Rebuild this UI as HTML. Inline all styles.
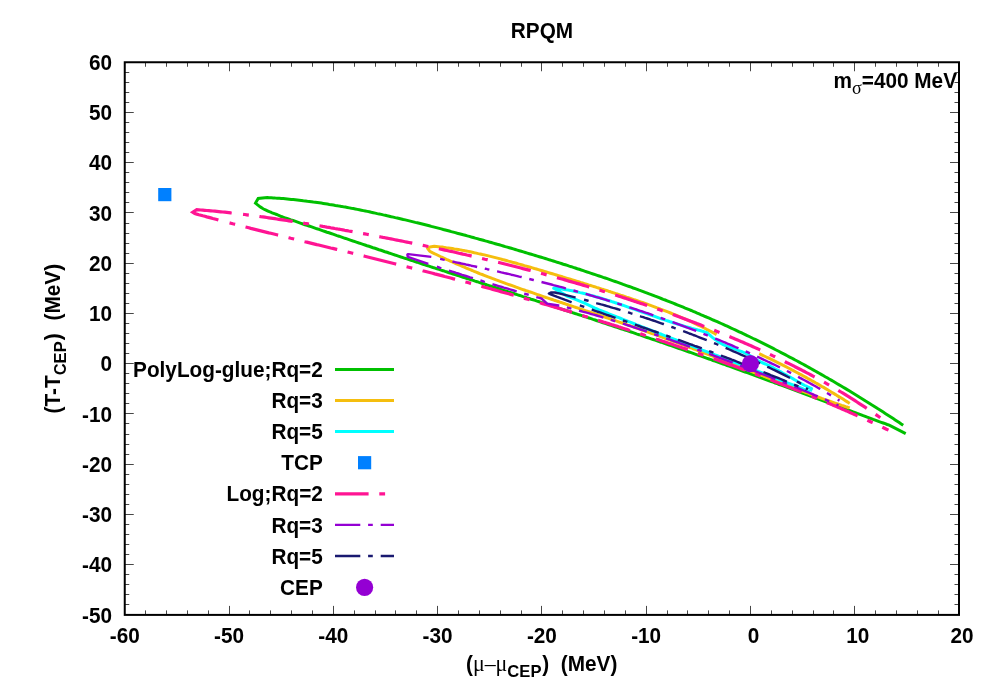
<!DOCTYPE html>
<html><head><meta charset="utf-8"><title>RPQM</title>
<style>
html,body{margin:0;padding:0;background:#fff;}
body{width:997px;height:698px;overflow:hidden;}
svg{display:block;will-change:transform;}
text{font-family:"Liberation Sans",sans-serif;font-weight:bold;fill:#000;}
</style></head><body>
<svg width="997" height="698" viewBox="0 0 997 698">
<rect width="997" height="698" fill="#fff"/>
<path d="M145.50 614.9 v-4.5 M145.50 62.25 v4.5 M166.50 614.9 v-4.5 M166.50 62.25 v4.5 M187.50 614.9 v-4.5 M187.50 62.25 v4.5 M208.50 614.9 v-4.5 M208.50 62.25 v4.5 M229.50 614.9 v-9 M229.50 62.25 v9 M249.50 614.9 v-4.5 M249.50 62.25 v4.5 M270.50 614.9 v-4.5 M270.50 62.25 v4.5 M291.50 614.9 v-4.5 M291.50 62.25 v4.5 M312.50 614.9 v-4.5 M312.50 62.25 v4.5 M333.50 614.9 v-9 M333.50 62.25 v9 M354.50 614.9 v-4.5 M354.50 62.25 v4.5 M375.50 614.9 v-4.5 M375.50 62.25 v4.5 M395.50 614.9 v-4.5 M395.50 62.25 v4.5 M416.50 614.9 v-4.5 M416.50 62.25 v4.5 M437.50 614.9 v-9 M437.50 62.25 v9 M458.50 614.9 v-4.5 M458.50 62.25 v4.5 M479.50 614.9 v-4.5 M479.50 62.25 v4.5 M500.50 614.9 v-4.5 M500.50 62.25 v4.5 M521.50 614.9 v-4.5 M521.50 62.25 v4.5 M541.50 614.9 v-9 M541.50 62.25 v9 M562.50 614.9 v-4.5 M562.50 62.25 v4.5 M583.50 614.9 v-4.5 M583.50 62.25 v4.5 M604.50 614.9 v-4.5 M604.50 62.25 v4.5 M625.50 614.9 v-4.5 M625.50 62.25 v4.5 M646.50 614.9 v-9 M646.50 62.25 v9 M667.50 614.9 v-4.5 M667.50 62.25 v4.5 M687.50 614.9 v-4.5 M687.50 62.25 v4.5 M708.50 614.9 v-4.5 M708.50 62.25 v4.5 M729.50 614.9 v-4.5 M729.50 62.25 v4.5 M750.50 614.9 v-9 M750.50 62.25 v9 M771.50 614.9 v-4.5 M771.50 62.25 v4.5 M792.50 614.9 v-4.5 M792.50 62.25 v4.5 M813.50 614.9 v-4.5 M813.50 62.25 v4.5 M833.50 614.9 v-4.5 M833.50 62.25 v4.5 M854.50 614.9 v-9 M854.50 62.25 v9 M875.50 614.9 v-4.5 M875.50 62.25 v4.5 M896.50 614.9 v-4.5 M896.50 62.25 v4.5 M917.50 614.9 v-4.5 M917.50 62.25 v4.5 M938.50 614.9 v-4.5 M938.50 62.25 v4.5 M124.75 604.50 h4.5 M959.0 604.50 h-4.5 M124.75 594.50 h4.5 M959.0 594.50 h-4.5 M124.75 584.50 h4.5 M959.0 584.50 h-4.5 M124.75 574.50 h4.5 M959.0 574.50 h-4.5 M124.75 564.50 h9 M959.0 564.50 h-9 M124.75 554.50 h4.5 M959.0 554.50 h-4.5 M124.75 544.50 h4.5 M959.0 544.50 h-4.5 M124.75 534.50 h4.5 M959.0 534.50 h-4.5 M124.75 524.50 h4.5 M959.0 524.50 h-4.5 M124.75 514.50 h9 M959.0 514.50 h-9 M124.75 504.50 h4.5 M959.0 504.50 h-4.5 M124.75 494.50 h4.5 M959.0 494.50 h-4.5 M124.75 484.50 h4.5 M959.0 484.50 h-4.5 M124.75 474.50 h4.5 M959.0 474.50 h-4.5 M124.75 464.50 h9 M959.0 464.50 h-9 M124.75 454.50 h4.5 M959.0 454.50 h-4.5 M124.75 444.50 h4.5 M959.0 444.50 h-4.5 M124.75 434.50 h4.5 M959.0 434.50 h-4.5 M124.75 423.50 h4.5 M959.0 423.50 h-4.5 M124.75 413.50 h9 M959.0 413.50 h-9 M124.75 403.50 h4.5 M959.0 403.50 h-4.5 M124.75 393.50 h4.5 M959.0 393.50 h-4.5 M124.75 383.50 h4.5 M959.0 383.50 h-4.5 M124.75 373.50 h4.5 M959.0 373.50 h-4.5 M124.75 363.50 h9 M959.0 363.50 h-9 M124.75 353.50 h4.5 M959.0 353.50 h-4.5 M124.75 343.50 h4.5 M959.0 343.50 h-4.5 M124.75 333.50 h4.5 M959.0 333.50 h-4.5 M124.75 323.50 h4.5 M959.0 323.50 h-4.5 M124.75 313.50 h9 M959.0 313.50 h-9 M124.75 303.50 h4.5 M959.0 303.50 h-4.5 M124.75 293.50 h4.5 M959.0 293.50 h-4.5 M124.75 283.50 h4.5 M959.0 283.50 h-4.5 M124.75 273.50 h4.5 M959.0 273.50 h-4.5 M124.75 263.50 h9 M959.0 263.50 h-9 M124.75 253.50 h4.5 M959.0 253.50 h-4.5 M124.75 243.50 h4.5 M959.0 243.50 h-4.5 M124.75 233.50 h4.5 M959.0 233.50 h-4.5 M124.75 223.50 h4.5 M959.0 223.50 h-4.5 M124.75 212.50 h9 M959.0 212.50 h-9 M124.75 202.50 h4.5 M959.0 202.50 h-4.5 M124.75 192.50 h4.5 M959.0 192.50 h-4.5 M124.75 182.50 h4.5 M959.0 182.50 h-4.5 M124.75 172.50 h4.5 M959.0 172.50 h-4.5 M124.75 162.50 h9 M959.0 162.50 h-9 M124.75 152.50 h4.5 M959.0 152.50 h-4.5 M124.75 142.50 h4.5 M959.0 142.50 h-4.5 M124.75 132.50 h4.5 M959.0 132.50 h-4.5 M124.75 122.50 h4.5 M959.0 122.50 h-4.5 M124.75 112.50 h9 M959.0 112.50 h-9 M124.75 102.50 h4.5 M959.0 102.50 h-4.5 M124.75 92.50 h4.5 M959.0 92.50 h-4.5 M124.75 82.50 h4.5 M959.0 82.50 h-4.5 M124.75 72.50 h4.5 M959.0 72.50 h-4.5" stroke="#000" stroke-opacity="0.72" stroke-width="1" fill="none"/>
<g id="curves" fill="none" stroke-linejoin="round">
<path d="M903.2 425.2 L901.2 423.9 L899.2 422.5 L897.2 421.2 L895.2 419.9 L893.2 418.6 L891.2 417.3 L889.2 416.0 L887.2 414.7 L885.2 413.4 L883.2 412.1 L881.2 410.8 L879.2 409.5 L877.2 408.3 L875.2 407.0 L873.2 405.7 L871.2 404.5 L869.2 403.2 L867.2 401.9 L865.2 400.7 L863.2 399.4 L861.2 398.2 L859.2 397.0 L857.2 395.7 L855.2 394.5 L853.2 393.3 L851.2 392.1 L849.2 390.8 L847.2 389.6 L845.2 388.4 L843.2 387.2 L841.2 386.0 L839.2 384.9 L837.2 383.7 L835.2 382.5 L833.2 381.3 L831.2 380.1 L829.2 379.0 L827.2 377.8 L825.2 376.7 L823.2 375.5 L821.2 374.4 L819.2 373.2 L817.2 372.1 L815.2 371.0 L813.2 369.9 L811.2 368.7 L809.2 367.6 L807.2 366.5 L805.2 365.4 L803.2 364.3 L801.2 363.2 L799.2 362.1 L797.2 361.0 L795.2 360.0 L793.2 358.9 L791.2 357.8 L789.2 356.8 L787.2 355.7 L785.2 354.6 L783.2 353.6 L781.2 352.6 L779.2 351.5 L777.2 350.5 L775.2 349.5 L773.2 348.4 L771.2 347.4 L769.2 346.4 L767.2 345.4 L765.2 344.4 L763.2 343.4 L761.2 342.4 L759.2 341.4 L757.2 340.4 L755.2 339.4 L753.2 338.5 L751.2 337.5 L749.2 336.5 L747.2 335.6 L745.2 334.6 L743.2 333.7 L741.2 332.7 L739.2 331.8 L737.2 330.8 L735.2 329.9 L733.2 329.0 L731.2 328.1 L729.2 327.1 L727.2 326.2 L725.2 325.3 L723.2 324.4 L721.2 323.5 L719.2 322.6 L717.2 321.7 L715.2 320.8 L713.2 320.0 L711.2 319.1 L709.2 318.2 L707.2 317.3 L705.2 316.5 L703.2 315.6 L701.2 314.8 L699.2 313.9 L697.2 313.1 L695.2 312.2 L693.2 311.4 L691.2 310.5 L689.2 309.7 L687.2 308.9 L685.2 308.1 L683.2 307.2 L681.2 306.4 L679.2 305.6 L677.2 304.8 L675.2 304.0 L673.2 303.2 L671.2 302.4 L669.2 301.6 L667.2 300.8 L665.2 300.0 L663.2 299.3 L661.2 298.5 L659.2 297.7 L657.2 296.9 L655.2 296.2 L653.2 295.4 L651.2 294.6 L649.2 293.9 L647.2 293.1 L645.2 292.4 L643.2 291.6 L641.2 290.9 L639.2 290.2 L637.2 289.4 L635.2 288.7 L633.2 288.0 L631.2 287.2 L629.2 286.5 L627.2 285.8 L625.2 285.1 L623.2 284.4 L621.2 283.6 L619.2 282.9 L617.2 282.2 L615.2 281.5 L613.2 280.8 L611.2 280.1 L609.2 279.4 L607.2 278.7 L605.2 278.0 L603.2 277.4 L601.2 276.7 L599.2 276.0 L597.2 275.3 L595.2 274.6 L593.2 274.0 L591.2 273.3 L589.2 272.6 L587.2 272.0 L585.2 271.3 L583.3 270.6 L581.3 270.0 L579.3 269.3 L577.3 268.7 L575.3 268.0 L573.3 267.4 L571.3 266.7 L569.3 266.1 L567.3 265.4 L565.3 264.8 L563.3 264.2 L561.3 263.5 L559.3 262.9 L557.3 262.3 L555.3 261.6 L553.3 261.0 L551.3 260.4 L549.3 259.8 L547.3 259.1 L545.3 258.5 L543.3 257.9 L541.3 257.3 L539.3 256.7 L537.3 256.1 L535.3 255.5 L533.3 254.9 L531.3 254.3 L529.3 253.7 L527.3 253.1 L525.3 252.5 L523.3 251.9 L521.3 251.3 L519.3 250.7 L517.3 250.1 L515.3 249.5 L513.3 248.9 L511.3 248.3 L509.3 247.7 L507.3 247.1 L505.3 246.6 L503.3 246.0 L501.3 245.4 L499.3 244.8 L497.3 244.3 L495.3 243.7 L493.3 243.1 L491.3 242.5 L489.3 242.0 L487.3 241.4 L485.3 240.9 L483.3 240.3 L481.3 239.7 L479.3 239.2 L477.3 238.6 L475.3 238.1 L473.3 237.5 L471.3 237.0 L469.3 236.4 L467.3 235.9 L465.3 235.3 L463.3 234.8 L461.3 234.2 L459.3 233.7 L457.3 233.2 L455.3 232.6 L453.3 232.1 L451.3 231.6 L449.3 231.0 L447.3 230.5 L445.3 230.0 L443.3 229.5 L441.3 228.9 L439.3 228.4 L437.3 227.9 L435.3 227.4 L433.3 226.9 L431.3 226.4 L429.3 225.8 L427.3 225.3 L425.3 224.8 L423.3 224.3 L421.3 223.8 L419.3 223.3 L417.3 222.8 L415.3 222.4 L413.3 221.9 L411.3 221.4 L409.3 220.9 L407.3 220.4 L405.3 219.9 L403.3 219.5 L401.3 219.0 L399.3 218.5 L397.3 218.0 L395.3 217.6 L393.3 217.1 L391.3 216.7 L389.3 216.2 L387.3 215.8 L385.3 215.3 L383.3 214.9 L381.3 214.4 L379.3 214.0 L377.3 213.6 L375.3 213.1 L373.3 212.7 L371.3 212.3 L369.3 211.8 L367.3 211.4 L365.3 211.0 L363.3 210.6 L361.3 210.2 L359.3 209.8 L357.3 209.4 L355.3 209.0 L353.3 208.6 L351.3 208.3 L349.3 207.9 L347.3 207.5 L345.3 207.1 L343.3 206.8 L341.3 206.4 L339.3 206.1 L337.3 205.7 L335.3 205.4 L333.3 205.0 L331.3 204.7 L329.3 204.4 L327.3 204.0 L325.3 203.7 L323.3 203.4 L321.3 203.1 L319.3 202.8 L317.3 202.5 L315.3 202.2 L313.3 202.0 L311.3 201.7 L309.3 201.4 L307.3 201.2 L305.3 200.9 L303.3 200.7 L301.3 200.4 L299.3 200.2 L297.3 200.0 L295.3 199.8 L293.3 199.6 L291.3 199.4 L289.3 199.2 L287.3 199.0 L285.3 198.8 L283.3 198.6 L281.3 198.5 L279.3 198.3 L277.3 198.2 L275.3 198.1 L273.3 197.9 L271.3 197.8 L269.3 197.7 L267.3 197.6 L258.2 198.5 L255.5 203.1 L257.0 204.4 L258.6 205.7 L259.7 206.6 L261.0 207.4 L262.4 208.3 L263.6 209.0 L265.0 209.7 L266.5 210.4 L268.0 211.1 L269.3 211.7 L270.7 212.2 L272.1 212.8 L273.6 213.3 L275.1 213.9 L276.6 214.5 L278.2 215.2 L279.8 215.8 L281.4 216.5 L283.0 217.1 L285.0 217.8 L287.0 218.5 L289.0 219.2 L291.0 219.9 L293.0 220.5 L295.0 221.2 L297.0 221.9 L299.0 222.6 L301.0 223.3 L303.0 224.0 L305.0 224.7 L307.0 225.3 L309.0 226.0 L311.0 226.7 L313.0 227.4 L315.0 228.1 L317.0 228.8 L319.0 229.4 L321.0 230.1 L323.0 230.8 L325.0 231.5 L327.0 232.2 L329.0 232.8 L331.0 233.5 L333.0 234.2 L335.0 234.9 L337.0 235.6 L339.0 236.2 L341.0 236.9 L343.0 237.6 L345.0 238.3 L347.0 238.9 L349.0 239.6 L351.0 240.3 L353.0 241.0 L355.0 241.6 L357.0 242.3 L359.0 243.0 L361.0 243.6 L363.0 244.3 L365.0 245.0 L367.0 245.7 L369.0 246.3 L371.0 247.0 L373.0 247.7 L375.0 248.3 L377.0 249.0 L379.0 249.7 L381.0 250.3 L383.0 251.0 L385.0 251.7 L387.0 252.3 L389.0 253.0 L391.0 253.6 L393.0 254.3 L395.0 255.0 L397.0 255.6 L399.0 256.3 L401.0 257.0 L403.0 257.6 L405.0 258.3 L407.0 258.9 L409.0 259.6 L411.0 260.3 L413.0 260.9 L415.0 261.6 L417.0 262.2 L419.0 262.9 L421.0 263.5 L423.0 264.2 L425.0 264.8 L427.0 265.5 L429.0 266.1 L431.0 266.8 L433.0 267.5 L435.1 268.1 L437.1 268.8 L439.1 269.4 L441.1 270.1 L443.1 270.7 L445.1 271.4 L447.1 272.0 L449.1 272.7 L451.1 273.3 L453.1 274.0 L455.1 274.6 L457.1 275.3 L459.1 275.9 L461.1 276.6 L463.1 277.2 L465.1 277.8 L467.1 278.5 L469.1 279.1 L471.1 279.8 L473.1 280.4 L475.1 281.1 L477.1 281.7 L479.1 282.4 L481.1 283.0 L483.1 283.7 L485.1 284.3 L487.1 285.0 L489.1 285.6 L491.1 286.2 L493.1 286.9 L495.1 287.5 L497.1 288.2 L499.1 288.8 L501.1 289.5 L503.1 290.1 L505.1 290.8 L507.1 291.4 L509.1 292.1 L511.1 292.7 L513.1 293.3 L515.1 294.0 L517.1 294.6 L519.1 295.3 L521.1 295.9 L523.1 296.6 L525.1 297.2 L527.1 297.9 L529.1 298.5 L531.1 299.2 L533.1 299.8 L535.1 300.4 L537.1 301.1 L539.1 301.7 L541.1 302.4 L543.1 303.0 L545.1 303.7 L547.1 304.3 L549.1 305.0 L551.1 305.6 L553.1 306.3 L555.1 306.9 L557.1 307.6 L559.1 308.2 L561.1 308.9 L563.1 309.5 L565.1 310.2 L567.1 310.8 L569.1 311.5 L571.1 312.1 L573.1 312.8 L575.1 313.5 L577.1 314.1 L579.1 314.8 L581.1 315.4 L583.1 316.1 L585.1 316.7 L587.1 317.4 L589.1 318.0 L591.1 318.7 L593.1 319.4 L595.1 320.0 L597.1 320.7 L599.1 321.3 L601.1 322.0 L603.1 322.7 L605.1 323.3 L607.1 324.0 L609.1 324.7 L611.1 325.3 L613.1 326.0 L615.1 326.7 L617.1 327.3 L619.1 328.0 L621.1 328.7 L623.1 329.3 L625.1 330.0 L627.1 330.7 L629.1 331.4 L631.1 332.0 L633.1 332.7 L635.1 333.4 L637.1 334.1 L639.1 334.7 L641.1 335.4 L643.1 336.1 L645.1 336.8 L647.1 337.5 L649.1 338.1 L651.1 338.8 L653.1 339.5 L655.1 340.2 L657.1 340.9 L659.1 341.6 L661.1 342.2 L663.1 342.9 L665.1 343.6 L667.1 344.3 L669.1 345.0 L671.1 345.7 L673.1 346.4 L675.1 347.1 L677.1 347.8 L679.1 348.5 L681.1 349.2 L683.1 349.9 L685.1 350.6 L687.1 351.3 L689.1 352.0 L691.1 352.7 L693.1 353.4 L695.1 354.1 L697.1 354.8 L699.1 355.5 L701.1 356.2 L703.1 356.9 L705.1 357.6 L707.1 358.3 L709.1 359.0 L711.1 359.7 L713.1 360.5 L715.1 361.2 L717.1 361.9 L719.1 362.6 L721.1 363.3 L723.1 364.0 L725.1 364.7 L727.1 365.5 L729.1 366.2 L731.1 366.9 L733.1 367.6 L735.1 368.4 L737.1 369.1 L739.2 369.8 L741.2 370.5 L743.2 371.3 L745.2 372.0 L747.2 372.7 L749.2 373.4 L751.2 374.2 L753.2 374.9 L755.2 375.6 L757.2 376.4 L759.2 377.1 L761.2 377.8 L763.2 378.6 L765.2 379.3 L767.2 380.0 L769.2 380.8 L771.2 381.5 L773.2 382.2 L775.2 383.0 L777.2 383.7 L779.2 384.5 L781.2 385.2 L783.2 385.9 L785.2 386.7 L787.2 387.4 L789.2 388.2 L791.2 388.9 L793.2 389.7 L795.2 390.4 L797.2 391.1 L799.2 391.9 L801.2 392.6 L803.2 393.4 L805.2 394.1 L807.2 394.9 L809.2 395.6 L811.2 396.4 L813.2 397.1 L815.2 397.8 L817.2 398.6 L819.2 399.3 L821.2 400.1 L823.2 400.8 L825.2 401.6 L827.2 402.3 L829.2 403.1 L831.2 403.8 L833.2 404.6 L835.2 405.3 L837.2 406.0 L839.2 406.8 L841.2 407.5 L843.2 408.3 L845.2 409.0 L847.2 409.8 L849.2 410.5 L851.2 411.2 L853.2 412.0 L855.2 412.7 L857.2 413.5 L859.2 414.2 L861.2 414.9 L863.2 415.7 L865.2 416.4 L867.2 417.2 L869.2 417.9 L871.2 418.6 L873.2 419.4 L875.2 420.1 L877.2 420.8 L879.2 421.6 L881.2 422.3 L883.2 423.0 L885.2 423.7 L887.2 424.5 L889.2 425.2 L905.7 433.7" stroke="#00c000" stroke-width="3" stroke-linejoin="miter" stroke-miterlimit="6"/>
<path d="M716.6 334.6 L714.6 333.5 L712.6 332.4 L710.6 331.3 L708.6 330.3 L706.6 329.3 L704.6 328.2 L702.6 327.2 L700.6 326.2 L698.6 325.3 L696.6 324.3 L694.6 323.4 L692.6 322.4 L690.6 321.5 L688.6 320.6 L686.6 319.7 L684.6 318.8 L682.6 318.0 L680.6 317.1 L678.6 316.3 L676.6 315.4 L674.6 314.6 L672.6 313.8 L670.6 313.0 L668.5 312.2 L666.5 311.4 L664.5 310.6 L662.5 309.8 L660.5 309.1 L658.5 308.3 L656.5 307.6 L654.5 306.8 L652.5 306.1 L650.5 305.4 L648.5 304.7 L646.5 303.9 L644.5 303.2 L642.5 302.5 L640.5 301.8 L638.5 301.1 L636.5 300.4 L634.5 299.8 L632.5 299.1 L630.5 298.4 L628.5 297.7 L626.5 297.1 L624.5 296.4 L622.5 295.7 L620.5 295.1 L618.5 294.4 L616.5 293.8 L614.5 293.1 L612.5 292.5 L610.5 291.8 L608.5 291.2 L606.5 290.5 L604.5 289.9 L602.5 289.3 L600.5 288.6 L598.5 288.0 L596.5 287.4 L594.5 286.7 L592.5 286.1 L590.5 285.5 L588.5 284.9 L586.5 284.2 L584.5 283.6 L582.5 283.0 L580.5 282.4 L578.5 281.7 L576.5 281.1 L574.4 280.5 L572.4 279.9 L570.4 279.3 L568.4 278.7 L566.4 278.1 L564.4 277.5 L562.4 276.8 L560.4 276.2 L558.4 275.6 L556.4 275.0 L554.4 274.4 L552.4 273.8 L550.4 273.2 L548.4 272.6 L546.4 272.0 L544.4 271.4 L542.4 270.8 L540.4 270.2 L538.4 269.6 L536.4 269.0 L534.4 268.5 L532.4 267.9 L530.4 267.3 L528.4 266.7 L526.4 266.1 L524.4 265.6 L522.4 265.0 L520.4 264.4 L518.4 263.9 L516.4 263.3 L514.4 262.7 L512.4 262.2 L510.4 261.6 L508.4 261.1 L506.4 260.5 L504.4 260.0 L502.4 259.5 L500.4 258.9 L498.4 258.4 L496.4 257.9 L494.4 257.4 L492.4 256.9 L490.4 256.4 L488.4 255.9 L486.4 255.4 L484.4 254.9 L482.4 254.5 L480.3 254.0 L478.3 253.6 L476.3 253.1 L474.3 252.7 L472.3 252.2 L470.3 251.8 L468.3 251.4 L466.3 251.0 L464.3 250.6 L462.3 250.3 L460.3 249.9 L458.3 249.5 L456.3 249.2 L454.3 248.9 L452.3 248.5 L450.3 248.2 L448.3 247.9 L446.3 247.7 L444.3 247.4 L442.3 247.1 L440.3 246.9 L438.3 246.7 L436.3 246.5 L434.3 246.3 L430.0 247.0 L427.6 248.3 L429.7 251.2 L432.3 252.6 L434.3 253.6 L436.3 254.5 L438.3 255.5 L440.3 256.5 L442.3 257.4 L444.3 258.3 L446.3 259.3 L448.3 260.2 L450.3 261.1 L452.3 262.0 L454.3 262.9 L456.3 263.8 L458.3 264.6 L460.3 265.5 L462.3 266.4 L464.3 267.2 L466.3 268.1 L468.2 268.9 L470.2 269.7 L472.2 270.5 L474.2 271.4 L476.2 272.2 L478.2 273.0 L480.2 273.8 L482.2 274.5 L484.2 275.3 L486.2 276.1 L488.2 276.9 L490.2 277.6 L492.2 278.4 L494.2 279.1 L496.2 279.9 L498.2 280.6 L500.2 281.4 L502.2 282.1 L504.2 282.8 L506.2 283.6 L508.2 284.3 L510.2 285.0 L512.2 285.7 L514.2 286.4 L516.2 287.2 L518.2 287.9 L520.2 288.6 L522.2 289.3 L524.2 290.0 L526.2 290.7 L528.2 291.3 L530.2 292.0 L532.2 292.7 L534.2 293.4 L536.2 294.1 L538.1 294.8 L540.1 295.4 L542.1 296.1 L544.1 296.8 L546.1 297.5 L548.1 298.1 L550.1 298.8 L552.1 299.5 L554.1 300.2 L556.1 300.8 L558.1 301.5 L560.1 302.2 L562.1 302.8 L564.1 303.5 L566.1 304.2 L568.1 304.8 L570.1 305.5 L572.1 306.1 L574.1 306.8 L576.1 307.5 L578.1 308.1 L580.1 308.8 L582.1 309.5 L584.1 310.1 L586.1 310.8 L588.1 311.5 L590.1 312.1 L592.1 312.8 L594.1 313.5 L596.1 314.2 L598.1 314.8 L600.1 315.5 L602.1 316.2 L604.1 316.8 L606.1 317.5 L608.0 318.2 L610.0 318.9 L612.0 319.6 L614.0 320.2 L616.0 320.9 L618.0 321.6 L620.0 322.3 L622.0 323.0 L624.0 323.7 L626.0 324.4 L628.0 325.1 L630.0 325.7 L632.0 326.4 L634.0 327.1 L636.0 327.8 L638.0 328.5 L640.0 329.2 L642.0 330.0 L644.0 330.7 L646.0 331.4 L648.0 332.1 L650.0 332.8 L652.0 333.5 L654.0 334.2 L656.0 334.9 L658.0 335.7 L660.0 336.4 L662.0 337.1 L664.0 337.8 L666.0 338.6 L668.0 339.3 L670.0 340.0 L672.0 340.8 L674.0 341.5 L675.9 342.2 L677.9 343.0 L679.9 343.7 L681.9 344.5 L683.9 345.2 L685.9 346.0 L687.9 346.7 L689.9 347.5 L691.9 348.2 L693.9 349.0 L695.9 349.7 L697.9 350.5 L699.9 351.3 L701.9 352.0 L703.9 352.8 L705.9 353.6 L707.9 354.3 L709.9 355.1 L711.9 355.9 L713.9 356.6 L715.9 357.4 L717.9 358.2 L719.9 359.0 L721.9 359.7 L723.9 360.5 L725.9 361.3 L727.9 362.1 L729.9 362.9 L731.9 363.6 L733.9 364.4 L735.9 365.2 L737.9 366.0 L739.9 366.8 L741.9 367.6 L743.9 368.4 L745.8 369.1 L747.8 369.9 L749.8 370.7 L751.8 371.5 L753.8 372.3 L755.8 373.1 L757.8 373.9 L759.8 374.7 L761.8 375.4 L763.8 376.2 L765.8 377.0 L767.8 377.8 L769.8 378.6 L771.8 379.4 L773.8 380.2 L775.8 380.9 L777.8 381.7 L779.8 382.5 L781.8 383.3 L783.8 384.1 L785.8 384.8 L787.8 385.6 L789.8 386.4 L791.8 387.1 L793.8 387.9 L795.8 388.7 L797.8 389.4 L799.8 390.2 L801.8 391.0 L803.8 391.7 L805.8 392.5 L807.8 393.2 L809.8 394.0 L811.8 394.7 L813.8 395.5 L815.7 396.2 L817.7 396.9 L819.7 397.6 L821.7 398.4 L823.7 399.1 L825.7 399.8 L827.7 400.5 L829.7 401.2 L831.7 401.9 L833.7 402.6 L835.7 403.3 L837.7 404.0 L839.7 404.7 L841.7 405.4 L843.7 406.0 L845.7 406.7 L847.7 407.3 L849.7 408.0" stroke="#f5be0e" stroke-width="3" stroke-linejoin="round"/>
<path d="M759.2 353.7 L761.2 354.6 L763.2 355.6 L765.2 356.5 L767.2 357.5 L769.3 358.4 L771.3 359.4 L773.3 360.4 L775.3 361.4 L777.3 362.4 L779.3 363.4 L781.3 364.4 L783.3 365.4 L785.3 366.4 L787.4 367.5 L789.4 368.5 L791.4 369.6 L793.4 370.6 L795.4 371.7 L797.4 372.8 L799.4 373.9 L801.4 374.9 L803.4 376.0 L805.5 377.1 L807.5 378.3 L809.5 379.4 L811.5 380.5 L813.5 381.6 L815.5 382.8 L817.5 383.9 L819.5 385.1 L821.5 386.3 L823.6 387.4 L825.6 388.6 L827.6 389.8 L829.6 391.0 L831.6 392.2 L833.6 393.4 L835.6 394.6 L837.6 395.9 L839.6 397.1 L841.7 398.3 L843.7 399.6 L845.7 400.9 L847.7 402.1 L849.7 403.4" stroke="#f5be0e" stroke-width="3"/>
<path d="M810.1 391.6 L808.1 390.8 L806.1 390.1 L804.1 389.3 L802.1 388.5 L800.1 387.7 L798.2 386.9 L796.2 386.2 L794.2 385.4 L792.2 384.6 L790.2 383.8 L788.2 383.1 L786.2 382.3 L784.2 381.5 L782.2 380.7 L780.2 380.0 L778.2 379.2 L776.2 378.4 L774.2 377.6 L772.3 376.9 L770.3 376.1 L768.3 375.3 L766.3 374.6 L764.3 373.8 L762.3 373.0 L760.3 372.2 L758.3 371.5 L756.3 370.7 L754.3 369.9 L752.3 369.2 L750.4 368.4 L748.4 367.6 L746.4 366.9 L744.4 366.1 L742.4 365.3 L740.4 364.6 L738.4 363.8 L736.4 363.0 L734.4 362.3 L732.4 361.5 L730.4 360.8 L728.4 360.0 L726.5 359.2 L724.5 358.5 L722.5 357.7 L720.5 356.9 L718.5 356.2 L716.5 355.4 L714.5 354.7 L712.5 353.9 L710.5 353.1 L708.5 352.4 L706.5 351.6 L704.5 350.8 L702.5 350.1 L700.6 349.3 L698.6 348.6 L696.6 347.8 L694.6 347.0 L692.6 346.3 L690.6 345.5 L688.6 344.7 L686.6 344.0 L684.6 343.2 L682.6 342.5 L680.6 341.7 L678.6 340.9 L676.7 340.2 L674.7 339.4 L672.7 338.6 L670.7 337.9 L668.7 337.1 L666.7 336.3 L664.7 335.6 L662.7 334.8 L660.7 334.0 L658.7 333.3 L656.7 332.5 L654.8 331.7 L652.8 331.0 L650.8 330.2 L648.8 329.4 L646.8 328.6 L644.8 327.9 L642.8 327.1 L640.8 326.3 L638.8 325.5 L636.8 324.8 L634.8 324.0 L632.8 323.2 L630.9 322.4 L628.9 321.7 L626.9 320.9 L624.9 320.1 L622.9 319.3 L620.9 318.5 L618.9 317.7 L616.9 317.0 L614.9 316.2 L612.9 315.4 L610.9 314.6 L608.9 313.8 L607.0 313.0 L605.0 312.2 L603.0 311.4 L601.0 310.6 L599.0 309.8 L597.0 309.0 L595.0 308.2 L585.1 303.3 L576.1 299.7 L567.1 296.1 L559.9 291.8 L553.7 288.3 L555.6 287.8 L560.1 288.8 L562.1 289.1 L564.1 289.4 L566.1 289.7 L568.1 290.1 L570.1 290.4 L572.1 290.8 L574.1 291.2 L576.1 291.7 L578.1 292.1 L580.1 292.6 L582.1 293.0 L584.1 293.5 L586.1 294.0 L588.1 294.6 L590.1 295.1 L592.1 295.6 L594.1 296.2 L596.1 296.8 L598.1 297.3 L600.1 297.9 L602.1 298.5 L604.1 299.1 L606.1 299.8 L608.1 300.4 L610.1 301.0 L612.1 301.7 L614.1 302.3 L616.1 303.0 L618.1 303.7 L620.1 304.3 L622.1 305.0 L624.1 305.7 L626.1 306.4 L628.1 307.1 L630.0 307.8 L632.0 308.5 L634.0 309.2 L636.0 309.9 L638.0 310.6 L640.0 311.3 L642.0 312.0 L644.0 312.7 L646.0 313.4 L648.0 314.1 L650.0 314.8 L652.0 315.5 L654.0 316.2 L656.0 316.9 L658.0 317.6 L660.0 318.3 L662.0 319.0 L664.0 319.7 L666.0 320.4 L668.0 321.0 L670.0 321.7 L672.0 322.3 L674.0 323.0 L676.0 323.6 L678.0 324.2 L680.0 324.9 L682.0 325.5 L684.0 326.1 L686.0 326.7 L688.0 327.2 L690.0 327.8 L692.0 328.4 L694.0 328.9 L696.0 329.4 L698.0 330.0 L700.0 330.5 L707.0 332.6 L708.1 333.6 L709.3 334.6 L710.4 335.6 L711.5 336.6 L712.7 337.6 L714.0 338.6 L715.2 339.5 L716.4 340.4 L717.6 341.3 L718.9 342.1 L720.2 343.0 L721.6 343.8 L723.1 344.6 L724.5 345.2 L725.9 345.8 L727.4 346.4 L728.9 346.9 L730.5 347.4 L732.0 348.0 L733.6 348.5 L735.1 349.1 L736.6 349.7 L738.1 350.3 L739.6 350.8 L741.1 351.4 L742.7 352.0 L744.2 352.7 L745.7 353.4 L747.2 354.1 L748.5 354.8 L749.9 355.6 L751.2 356.4 L752.6 357.2 L753.9 358.1 L755.3 358.9 L756.6 359.7 L757.9 360.5 L759.2 361.2 L760.6 361.9 L761.8 362.5 L763.0 363.0 L764.2 363.5 L765.5 364.0 L766.8 364.6 L768.4 365.3 L770.2 366.2 L771.3 366.8 L772.5 367.4 L773.7 368.1 L775.0 368.8 L776.4 369.5 L777.9 370.3 L779.3 371.1 L780.8 371.9 L782.2 372.7 L783.6 373.5 L785.1 374.3 L786.4 375.0 L787.7 375.8 L789.0 376.5 L790.1 377.1 L791.7 378.0 L793.2 378.9 L794.6 379.7 L796.0 380.5 L797.3 381.3 L798.6 382.0 L799.7 382.7 L800.9 383.4 L802.0 384.0 L803.1 384.6 L804.8 385.5 L806.3 386.2 L807.6 386.8 L808.9 387.4 L810.2 388.0 L811.6 388.6 L810.1 391.4" stroke="#00ffff" stroke-width="3" stroke-linejoin="round"/>
<path d="M231.7 213.0 L230.8 212.9 L228.8 212.6 L226.8 212.4 L224.8 212.2 L222.8 212.0 L220.8 211.8 L218.8 211.6 L216.8 211.4 L214.8 211.2 L212.8 211.0 L210.8 210.8 L208.8 210.6 L206.8 210.5 L204.8 210.3 L202.8 210.1 L200.8 210.0 L198.8 209.8 L196.8 209.7 L192.8 212.2 L194.8 213.5 L196.8 214.1 L198.8 214.7 L200.8 215.2 L202.8 215.8 L204.8 216.3 L206.8 216.9 L208.8 217.4 L210.8 217.9 L212.8 218.5 L214.8 219.0 L216.8 219.5 L218.4 220.0" stroke="#ff1493" stroke-width="3.2" stroke-linejoin="miter" stroke-miterlimit="8"/>
<path d="M236.0 213.5 L236.8 213.6 L238.8 213.8 L240.8 214.0 L242.8 214.3 L244.8 214.5 L246.8 214.8 L248.8 215.1 L250.8 215.3 L252.8 215.6 L254.8 215.8 L256.8 216.1 L258.8 216.4 L260.8 216.7 L262.8 216.9 L264.8 217.2 L266.8 217.5 L268.8 217.8 L270.8 218.1 L272.8 218.4 L274.8 218.7 L276.8 219.0 L278.8 219.3 L280.8 219.6 L282.8 219.9 L284.8 220.2 L286.8 220.5 L288.8 220.8 L290.8 221.1 L292.8 221.4 L294.8 221.8 L296.8 222.1 L298.8 222.4 L300.8 222.7 L302.8 223.0 L304.8 223.4 L306.8 223.7 L308.8 224.0 L310.8 224.4 L312.8 224.7 L314.8 225.0 L316.8 225.4 L318.8 225.7 L320.8 226.0 L322.8 226.4 L324.8 226.7 L326.8 227.1 L328.8 227.4 L330.8 227.8 L332.8 228.1 L334.8 228.5 L336.8 228.8 L338.8 229.2 L340.8 229.5 L342.8 229.9 L344.8 230.3 L346.8 230.6 L348.8 231.0 L350.8 231.3 L352.8 231.7 L354.8 232.1 L356.8 232.4 L358.8 232.8 L360.8 233.2 L362.8 233.6 L364.8 233.9 L366.8 234.3 L368.9 234.7 L370.9 235.1 L372.9 235.4 L374.9 235.8 L376.9 236.2 L378.9 236.6 L380.9 237.0 L382.9 237.4 L384.9 237.7 L386.9 238.1 L388.9 238.5 L390.9 238.9 L392.9 239.3 L394.9 239.7 L396.9 240.1 L398.9 240.5 L400.9 240.9 L402.9 241.3 L404.9 241.7 L406.9 242.1 L408.9 242.5 L410.9 242.9 L412.9 243.3 L414.9 243.7 L416.9 244.1 L418.9 244.6 L420.9 245.0 L422.9 245.4 L424.9 245.8 L426.9 246.2 L428.9 246.6 L430.9 247.1 L432.9 247.5 L434.9 247.9 L436.9 248.4 L438.9 248.8 L440.9 249.2 L442.9 249.6 L444.9 250.1 L446.9 250.5 L448.9 251.0 L450.9 251.4 L452.9 251.8 L454.9 252.3 L456.9 252.7 L458.9 253.2 L460.9 253.6 L462.9 254.1 L464.9 254.5 L466.9 255.0 L468.9 255.4 L470.9 255.9 L472.9 256.4 L474.9 256.8 L476.9 257.3 L478.9 257.8 L480.9 258.2 L482.9 258.7 L484.9 259.2 L486.9 259.6 L488.9 260.1 L490.9 260.6 L492.9 261.1 L494.9 261.6 L496.9 262.1 L498.9 262.5 L500.9 263.0 L502.9 263.5 L504.9 264.0 L506.9 264.5 L508.9 265.0 L510.9 265.5 L512.9 266.0 L514.9 266.5 L516.9 267.0 L518.9 267.5 L520.9 268.0 L522.9 268.6 L524.9 269.1 L526.9 269.6 L528.9 270.1 L530.9 270.6 L532.9 271.2 L534.9 271.7 L536.9 272.2 L538.9 272.8 L540.9 273.3 L542.9 273.8 L544.9 274.4 L546.9 274.9 L548.9 275.5 L550.9 276.0 L552.9 276.6 L554.9 277.1 L556.9 277.7 L558.9 278.2 L560.9 278.8 L562.9 279.3 L564.9 279.9 L566.9 280.5 L568.9 281.1 L570.9 281.6 L572.9 282.2 L574.9 282.8 L576.9 283.4 L578.9 283.9 L580.9 284.5 L582.9 285.1 L584.9 285.7 L586.9 286.3 L588.9 286.9 L590.9 287.5 L592.9 288.1 L594.9 288.7 L596.9 289.3 L598.9 289.9 L600.9 290.5 L602.9 291.2 L604.9 291.8 L606.9 292.4 L608.9 293.0 L610.9 293.6 L612.9 294.3 L614.9 294.9 L616.9 295.5 L618.9 296.2 L620.9 296.8 L622.9 297.5 L624.9 298.1 L626.9 298.8 L628.9 299.4 L630.9 300.1 L632.9 300.7 L634.9 301.4 L636.9 302.1 L638.9 302.7 L640.9 303.4 L642.9 304.1 L644.9 304.8 L646.9 305.4 L648.9 306.1 L650.9 306.8 L652.9 307.5 L654.9 308.2 L656.9 308.9 L658.9 309.6 L660.9 310.3 L662.9 311.0 L664.9 311.7 L666.9 312.4 L668.9 313.2 L670.9 313.9 L672.9 314.6 L674.9 315.3 L676.9 316.1 L678.9 316.8 L680.9 317.5 L682.9 318.3 L684.9 319.0 L686.9 319.8 L688.9 320.5 L690.9 321.3 L692.9 322.0 L694.9 322.8 L696.9 323.6 L698.9 324.3 L700.9 325.1 L702.9 325.9 L704.9 326.7 L706.9 327.5 L708.9 328.2 L711.0 329.0 L713.0 329.8 L715.0 330.6 L717.0 331.4 L719.0 332.3 L721.0 333.1 L723.0 333.9 L725.0 334.7 L727.0 335.5 L729.0 336.4 L731.0 337.2 L733.0 338.1 L735.0 338.9 L737.0 339.7 L739.0 340.6 L741.0 341.5 L743.0 342.3 L745.0 343.2 L747.0 344.1 L749.0 344.9 L751.0 345.8 L753.0 346.7 L755.0 347.6 L757.0 348.5 L759.0 349.4 L761.0 350.3 L763.0 351.2 L765.0 352.2 L767.0 353.1 L769.0 354.0 L771.0 354.9 L773.0 355.9 L775.0 356.8 L777.0 357.8 L779.0 358.8 L781.0 359.7 L783.0 360.7 L785.0 361.7 L787.0 362.7 L789.0 363.6 L791.0 364.6 L793.0 365.6 L795.0 366.7 L797.0 367.7 L799.0 368.7 L801.0 369.7 L803.0 370.8 L805.0 371.8 L807.0 372.9 L809.0 373.9 L811.0 375.0 L813.0 376.1 L815.0 377.2 L817.0 378.3 L819.0 379.4 L821.0 380.5 L823.0 381.6 L825.0 382.7 L827.0 383.8 L829.0 385.0 L831.0 386.1 L833.0 387.3 L835.0 388.5 L837.0 389.6 L839.0 390.8 L841.0 392.0 L843.0 393.2 L845.0 394.4 L847.0 395.7 L849.0 396.9 L851.0 398.2 L853.0 399.4 L855.0 400.7 L857.0 402.0 L859.0 403.3 L861.0 404.6 L863.0 405.9 L865.0 407.2 L867.0 408.5 L869.0 409.9 L871.0 411.3 L873.0 412.6 L875.0 414.0 L877.0 415.4 L879.0 416.8 L881.0 418.3" stroke="#ff1493" stroke-width="3.2" stroke-dasharray="33.6 10.7 5.8 10.7" stroke-dashoffset="37.19"/>
<path d="M222.2 221.0 L222.8 221.1 L224.8 221.7 L226.8 222.2 L228.8 222.7 L230.8 223.2 L232.8 223.8 L234.8 224.3 L236.8 224.8 L238.8 225.3 L240.8 225.8 L242.8 226.3 L244.8 226.8 L246.8 227.3 L248.8 227.8 L250.8 228.4 L252.8 228.9 L254.8 229.4 L256.8 229.9 L258.8 230.4 L260.8 230.9 L262.8 231.4 L264.8 231.9 L266.8 232.4 L268.8 232.9 L270.8 233.3 L272.8 233.8 L274.8 234.3 L276.8 234.8 L278.8 235.3 L280.8 235.8 L282.8 236.3 L284.8 236.8 L286.8 237.3 L288.8 237.8 L290.8 238.3 L292.8 238.7 L294.8 239.2 L296.8 239.7 L298.8 240.2 L300.8 240.7 L302.8 241.2 L304.8 241.7 L306.8 242.1 L308.8 242.6 L310.7 243.1 L312.7 243.6 L314.7 244.1 L316.7 244.6 L318.7 245.0 L320.7 245.5 L322.7 246.0 L324.7 246.5 L326.7 247.0 L328.7 247.5 L330.7 248.0 L332.7 248.4 L334.7 248.9 L336.7 249.4 L338.7 249.9 L340.7 250.4 L342.7 250.9 L344.7 251.4 L346.7 251.8 L348.7 252.3 L350.7 252.8 L352.7 253.3 L354.7 253.8 L356.7 254.3 L358.7 254.8 L360.7 255.3 L362.7 255.7 L364.7 256.2 L366.7 256.7 L368.7 257.2 L370.7 257.7 L372.7 258.2 L374.7 258.7 L376.7 259.2 L378.7 259.7 L380.7 260.2 L382.7 260.7 L384.7 261.2 L386.7 261.7 L388.7 262.2 L390.7 262.7 L392.7 263.2 L394.7 263.7 L396.7 264.2 L398.7 264.7 L400.7 265.2 L402.7 265.7 L404.7 266.2 L406.7 266.7 L408.7 267.2 L410.7 267.7 L412.7 268.2 L414.7 268.7 L416.7 269.2 L418.7 269.7 L420.7 270.2 L422.7 270.8 L424.7 271.3 L426.7 271.8 L428.7 272.3 L430.7 272.8 L432.7 273.3 L434.7 273.9 L436.7 274.4 L438.7 274.9 L440.7 275.4 L442.7 275.9 L444.7 276.5 L446.7 277.0 L448.7 277.5 L450.7 278.0 L452.7 278.6 L454.7 279.1 L456.7 279.6 L458.7 280.2 L460.7 280.7 L462.7 281.2 L464.7 281.8 L466.7 282.3 L468.7 282.8 L470.7 283.4 L472.7 283.9 L474.7 284.5 L476.7 285.0 L478.7 285.5 L480.7 286.1 L482.7 286.6 L484.7 287.2 L486.7 287.7 L488.7 288.3 L490.7 288.8 L492.7 289.4 L494.7 289.9 L496.7 290.5 L498.7 291.0 L500.7 291.6 L502.7 292.2 L504.7 292.7 L506.7 293.3 L508.7 293.8 L510.7 294.4 L512.7 295.0 L514.7 295.5 L516.7 296.1 L518.7 296.7 L520.7 297.2 L522.7 297.8 L524.7 298.4 L526.7 299.0 L528.7 299.5 L530.7 300.1 L532.7 300.7 L534.7 301.3 L536.7 301.8 L538.7 302.4 L540.7 303.0 L542.6 303.6 L544.6 304.2 L546.6 304.8 L548.6 305.3 L550.6 305.9 L552.6 306.5 L554.6 307.1 L556.6 307.7 L558.6 308.3 L560.6 308.9 L562.6 309.5 L564.6 310.1 L566.6 310.7 L568.6 311.3 L570.6 311.9 L572.6 312.5 L574.6 313.1 L576.6 313.7 L578.6 314.3 L580.6 314.9 L582.6 315.5 L584.6 316.2 L586.6 316.8 L588.6 317.4 L590.6 318.0 L592.6 318.6 L594.6 319.2 L596.6 319.9 L598.6 320.5 L600.6 321.1 L602.6 321.7 L604.6 322.4 L606.6 323.0 L608.6 323.6 L610.6 324.2 L612.6 324.9 L614.6 325.5 L616.6 326.1 L618.6 326.8 L620.6 327.4 L622.6 328.1 L624.6 328.7 L626.6 329.3 L628.6 330.0 L630.6 330.6 L632.6 331.3 L634.6 331.9 L636.6 332.6 L638.6 333.2 L640.6 333.9 L642.6 334.5 L644.6 335.2 L646.6 335.8 L648.6 336.5 L650.6 337.2 L652.6 337.8 L654.6 338.5 L656.6 339.2 L658.6 339.8 L660.6 340.5 L662.6 341.2 L664.6 341.8 L666.6 342.5 L668.6 343.2 L670.6 343.8 L672.6 344.5 L674.6 345.2 L676.6 345.9 L678.6 346.6 L680.6 347.2 L682.6 347.9 L684.6 348.6 L686.6 349.3 L688.6 350.0 L690.6 350.7 L692.6 351.4 L694.6 352.1 L696.6 352.8 L698.6 353.5 L700.6 354.2 L702.6 354.9 L704.6 355.6 L706.6 356.3 L708.6 357.0 L710.6 357.7 L712.6 358.4 L714.6 359.1 L716.6 359.8 L718.6 360.5 L720.6 361.3 L722.6 362.0 L724.6 362.7 L726.6 363.4 L728.6 364.2 L730.6 364.9 L732.6 365.6 L734.6 366.3 L736.6 367.1 L738.6 367.8 L740.6 368.5 L742.6 369.3 L744.6 370.0 L746.6 370.8 L748.6 371.5 L750.6 372.3 L752.6 373.0 L754.6 373.8 L756.6 374.5 L758.6 375.3 L760.6 376.0 L762.6 376.8 L764.6 377.5 L766.6 378.3 L768.6 379.1 L770.6 379.8 L772.5 380.6 L774.5 381.4 L776.5 382.2 L778.5 382.9 L780.5 383.7 L782.5 384.5 L784.5 385.3 L786.5 386.1 L788.5 386.9 L790.5 387.6 L792.5 388.4 L794.5 389.2 L796.5 390.0 L798.5 390.8 L800.5 391.6 L802.5 392.5 L804.5 393.3 L806.5 394.1 L808.5 394.9 L810.5 395.7 L812.5 396.5 L814.5 397.4 L816.5 398.2 L818.5 399.0 L820.5 399.8 L822.5 400.7 L824.5 401.5 L826.5 402.4 L828.5 403.2 L830.5 404.0 L832.5 404.9 L834.5 405.7 L836.5 406.6 L838.5 407.5 L840.5 408.3 L842.5 409.2 L844.5 410.1 L846.5 410.9 L848.5 411.8 L850.5 412.7 L852.5 413.6 L854.5 414.5 L856.5 415.4 L858.5 416.2 L860.5 417.1 L862.5 418.0 L864.5 418.9 L866.5 419.9 L868.5 420.8 L870.5 421.7 L872.5 422.6 L874.5 423.5 L876.5 424.5 L878.5 425.4 L880.5 426.3 L882.5 427.3 L884.5 428.2 L886.5 429.2 L888.5 430.1" stroke="#ff1493" stroke-width="3.2" stroke-dasharray="33.6 10.7 5.8 10.7" stroke-dashoffset="36.72"/>
<path d="M431.3 256.9 L408.2 254.1 L407.4 254.6 L407.5 255.5 L407.8 256.9 L428.3 263.9" stroke="#9400d3" stroke-width="2.4" stroke-linejoin="round"/>
<path d="M435.0 257.7 L435.3 257.8 L437.3 258.2 L439.3 258.7 L441.3 259.1 L443.3 259.6 L445.3 260.0 L447.3 260.4 L449.3 260.9 L451.3 261.3 L453.3 261.7 L455.3 262.2 L457.3 262.6 L459.3 263.0 L461.3 263.5 L463.3 263.9 L465.3 264.3 L467.3 264.8 L469.3 265.2 L471.3 265.7 L473.3 266.1 L475.3 266.5 L477.3 267.0 L479.3 267.4 L481.3 267.9 L483.3 268.3 L485.3 268.7 L487.3 269.2 L489.3 269.6 L491.3 270.1 L493.3 270.5 L495.3 271.0 L497.3 271.4 L499.3 271.9 L501.3 272.4 L503.3 272.8 L505.3 273.3 L507.3 273.7 L509.3 274.2 L511.3 274.7 L513.3 275.1 L515.3 275.6 L517.3 276.1 L519.3 276.6 L521.3 277.0 L523.3 277.5 L525.3 278.0 L527.3 278.5 L529.3 279.0 L531.3 279.5 L533.4 280.0 L535.4 280.5 L537.4 281.0 L539.4 281.5 L541.4 282.0 L543.4 282.5 L545.4 283.0 L547.4 283.5 L549.4 284.0 L551.4 284.5 L553.4 285.1 L555.4 285.6 L557.4 286.1 L559.4 286.7 L561.4 287.2 L563.4 287.7 L565.4 288.3 L567.4 288.8 L569.4 289.4 L571.4 289.9 L573.4 290.5 L575.4 291.0 L577.4 291.6 L579.4 292.1 L581.4 292.7 L583.4 293.3 L585.4 293.8 L587.4 294.4 L589.4 295.0 L591.4 295.6 L593.4 296.2 L595.4 296.8 L597.4 297.3 L599.4 297.9 L601.4 298.5 L603.4 299.1 L605.4 299.7 L607.4 300.4 L609.4 301.0 L611.4 301.6 L613.4 302.2 L615.4 302.8 L617.4 303.4 L619.4 304.1 L621.4 304.7 L623.4 305.3 L625.4 306.0 L627.4 306.6 L629.4 307.3 L631.4 307.9 L633.4 308.6 L635.4 309.2 L637.4 309.9 L639.4 310.6 L641.4 311.2 L643.4 311.9 L645.4 312.6 L647.4 313.2 L649.4 313.9 L651.4 314.6 L653.4 315.3 L655.4 316.0 L657.4 316.7 L659.4 317.4 L661.4 318.1 L663.4 318.8 L665.4 319.5 L667.4 320.2 L669.4 320.9 L671.4 321.7 L673.4 322.4 L675.4 323.1 L677.4 323.9 L679.4 324.6 L681.4 325.3 L683.4 326.1 L685.4 326.8 L687.4 327.6 L689.4 328.3 L691.4 329.1 L693.4 329.9 L695.4 330.6 L697.4 331.4 L699.4 332.2 L701.4 333.0 L703.4 333.8 L705.4 334.6 L707.4 335.4 L709.4 336.2 L711.4 337.0 L713.4 337.8 L715.4 338.6 L717.4 339.4 L719.4 340.2 L721.4 341.0 L723.4 341.9 L725.4 342.7 L727.4 343.6 L729.4 344.4 L731.4 345.2 L733.4 346.1 L735.4 347.0 L737.5 347.8 L739.5 348.7 L741.5 349.6 L743.5 350.5 L745.5 351.3 L747.5 352.2 L749.5 353.1 L751.5 354.0 L753.5 354.9 L755.5 355.9 L757.5 356.8 L759.5 357.7 L761.5 358.6 L763.5 359.6 L765.5 360.5 L767.5 361.5 L769.5 362.4 L771.5 363.4 L773.5 364.3 L775.5 365.3 L777.5 366.3 L779.5 367.3 L781.5 368.3 L783.5 369.3 L785.5 370.3 L787.5 371.3 L789.5 372.3 L791.5 373.4 L793.5 374.4 L795.5 375.4 L797.5 376.5 L799.5 377.6 L801.5 378.6 L803.5 379.7 L805.5 380.8 L807.5 381.9 L809.5 383.0 L811.5 384.1 L813.5 385.2 L815.5 386.3 L817.5 387.5 L819.5 388.6 L821.5 389.8 L823.5 391.0 L825.5 392.1 L827.5 393.3 L829.5 394.5 L831.5 395.7 L833.5 396.9 L835.5 398.2 L837.5 399.4 L839.5 400.6" stroke="#9400d3" stroke-width="2.4" stroke-dasharray="25.3 7.8 4.7 7.9" stroke-dashoffset="27.83"/>
<path d="M432.0 265.1 L432.3 265.2 L434.3 265.8 L436.2 266.5 L438.2 267.1 L440.2 267.8 L442.2 268.4 L444.2 269.1 L446.2 269.7 L448.2 270.3 L450.1 271.0 L452.1 271.6 L454.1 272.2 L456.1 272.9 L458.1 273.5 L460.1 274.1 L462.1 274.8 L464.0 275.4 L466.0 276.0 L468.0 276.6 L470.0 277.3 L472.0 277.9 L474.0 278.5 L476.0 279.1 L477.9 279.7 L479.9 280.3 L481.9 280.9 L483.9 281.6 L485.9 282.2 L487.9 282.8 L489.9 283.4 L491.9 284.0 L493.8 284.6 L495.8 285.2 L497.8 285.8 L499.8 286.4 L501.8 287.0 L503.8 287.6 L505.8 288.1 L507.7 288.7 L509.7 289.3 L511.7 289.9 L513.7 290.5 L515.7 291.1 L517.7 291.7 L519.7 292.2 L521.6 292.8 L523.6 293.4 L525.6 294.0 L527.6 294.5 L529.6 295.1 L531.6 295.7 L533.6 296.2 L535.5 296.8 L537.5 297.4 L539.5 297.9 L541.5 298.5 L547.1 303.6 L558.6 305.5 L560.6 305.9 L562.6 306.4 L564.6 306.9 L566.6 307.4 L568.6 307.9 L570.6 308.4 L572.6 308.9 L574.6 309.4 L576.6 309.9 L578.6 310.5 L580.6 311.0 L582.6 311.6 L584.6 312.1 L586.6 312.7 L588.6 313.2 L590.6 313.8 L592.6 314.4 L594.6 314.9 L596.6 315.5 L598.6 316.1 L600.6 316.7 L602.6 317.3 L604.6 317.9 L606.6 318.5 L608.6 319.1 L610.6 319.8 L612.6 320.4 L614.6 321.0 L616.6 321.6 L618.6 322.3 L620.6 322.9 L622.6 323.6 L624.6 324.2 L626.6 324.9 L628.6 325.5 L630.6 326.2 L632.6 326.8 L634.6 327.5 L636.6 328.2 L638.6 328.8 L640.6 329.5 L642.6 330.2 L644.6 330.9 L646.6 331.5 L648.6 332.2 L650.6 332.9 L652.6 333.6 L654.6 334.3 L656.6 335.0 L658.6 335.7 L660.6 336.4 L662.6 337.1 L664.6 337.8 L666.6 338.5 L668.6 339.2 L670.6 339.9 L672.6 340.6 L674.6 341.3 L676.6 342.0 L678.6 342.7 L680.6 343.5 L682.6 344.2 L684.6 344.9 L686.6 345.6 L688.6 346.3 L690.6 347.1 L692.6 347.8 L694.6 348.5 L696.6 349.3 L698.5 350.0 L700.5 350.7 L702.5 351.5 L704.5 352.2 L706.5 352.9 L708.5 353.7 L710.5 354.4 L712.5 355.1 L714.5 355.9 L716.5 356.6 L718.5 357.4 L720.5 358.1 L722.5 358.9 L724.5 359.6 L726.5 360.4 L728.5 361.1 L730.5 361.9 L732.5 362.6 L734.5 363.4 L736.5 364.1 L738.5 364.9 L740.5 365.6 L742.5 366.4 L744.5 367.1 L746.5 367.9 L748.5 368.7 L750.5 369.4 L752.5 370.2 L754.5 371.0 L756.5 371.7 L758.5 372.5 L760.5 373.3 L762.5 374.1 L764.5 374.8 L766.5 375.6 L768.5 376.4 L770.5 377.2 L772.5 378.0 L774.5 378.7 L776.5 379.5 L778.5 380.3 L780.5 381.1 L782.5 381.9 L784.5 382.7 L786.5 383.5 L788.5 384.3 L790.5 385.1 L792.5 385.9 L794.5 386.7 L796.5 387.5 L798.5 388.3 L800.5 389.2 L802.5 390.0 L804.5 390.8 L806.5 391.6 L808.5 392.5 L810.5 393.3 L812.5 394.1 L814.5 395.0 L816.5 395.8 L818.5 396.7 L820.5 397.5 L822.5 398.4 L824.5 399.2 L826.5 400.1 L828.5 401.0 L830.5 401.9 L832.5 402.7 L834.5 403.6 L836.5 404.5 L838.5 405.4" stroke="#9400d3" stroke-width="2.4" stroke-dasharray="25.3 7.8 4.7 7.9" stroke-dashoffset="27.99"/>
<path d="M575.6 297.5 L575.0 297.4 L573.0 296.9 L571.0 296.4 L569.0 295.9 L567.0 295.4 L565.0 294.9 L563.0 294.4 L561.0 293.9 L559.0 293.4 L557.0 293.0 L555.0 292.5 L550.8 292.5 L548.8 293.5 L550.6 294.4 L552.6 295.1 L554.6 295.9 L556.6 296.7 L558.6 297.4 L560.6 298.2 L562.6 298.9 L564.6 299.7 L566.6 300.4 L568.6 301.2 L570.6 301.9 L571.6 302.3" stroke="#191970" stroke-width="2.4" stroke-linejoin="round"/>
<path d="M580.0 298.7 L581.1 298.9 L583.1 299.5 L585.1 300.0 L587.1 300.5 L589.1 301.1 L591.1 301.6 L593.1 302.1 L595.1 302.7 L597.1 303.3 L599.1 303.8 L601.1 304.4 L603.1 304.9 L605.1 305.5 L607.1 306.1 L609.1 306.7 L611.1 307.3 L613.1 307.9 L615.1 308.4 L617.1 309.0 L619.2 309.6 L621.2 310.3 L623.2 310.9 L625.2 311.5 L627.2 312.1 L629.2 312.7 L631.2 313.4 L633.2 314.0 L635.2 314.6 L637.2 315.3 L639.2 315.9 L641.2 316.6 L643.2 317.2 L645.2 317.9 L647.2 318.5 L649.2 319.2 L651.2 319.9 L653.2 320.5 L655.2 321.2 L657.2 321.9 L659.2 322.6 L661.3 323.3 L663.3 324.0 L665.3 324.7 L667.3 325.4 L669.3 326.1 L671.3 326.8 L673.3 327.5 L675.3 328.3 L677.3 329.0 L679.3 329.7 L681.3 330.5 L683.3 331.2 L685.3 331.9 L687.3 332.7 L689.3 333.5 L691.3 334.2 L693.3 335.0 L695.3 335.7 L697.3 336.5 L699.3 337.3 L701.3 338.1 L703.4 338.9 L705.4 339.7 L707.4 340.5 L709.4 341.3 L711.4 342.1 L713.4 342.9 L715.4 343.7 L717.4 344.5 L719.4 345.3 L721.4 346.2 L723.4 347.0 L725.4 347.8 L727.4 348.7 L729.4 349.5 L731.4 350.4 L733.4 351.3 L735.4 352.1 L737.4 353.0 L739.4 353.9 L741.4 354.8 L743.4 355.7 L745.5 356.5 L747.5 357.4 L749.5 358.4 L751.5 359.3 L753.5 360.2 L755.5 361.1 L757.5 362.0 L759.5 363.0 L761.5 363.9 L763.5 364.8 L765.5 365.8 L767.5 366.8 L769.5 367.7 L771.5 368.7 L773.5 369.7 L775.5 370.6 L777.5 371.6 L779.5 372.6 L781.5 373.6 L783.5 374.6 L785.5 375.6 L787.6 376.7 L789.6 377.7 L791.6 378.7 L793.6 379.8 L795.6 380.8 L797.6 381.9 L799.6 382.9 L801.6 384.0 L803.6 385.1 L805.6 386.1 L807.6 387.2 L806.6 389.6" stroke="#191970" stroke-width="2.4" stroke-dasharray="25.3 7.8 4.7 7.9" stroke-dashoffset="28.91"/>
<path d="M576.0 303.9 L576.6 304.1 L578.6 304.8 L580.6 305.6 L582.6 306.3 L584.6 307.0 L586.6 307.7 L588.6 308.4 L590.6 309.1 L592.6 309.8 L594.6 310.6 L596.6 311.3 L598.6 312.0 L600.6 312.7 L602.6 313.4 L604.6 314.1 L606.6 314.8 L608.6 315.5 L610.6 316.2 L612.6 316.9 L614.6 317.6 L616.6 318.3 L618.6 319.0 L620.6 319.7 L622.6 320.4 L624.6 321.0 L626.6 321.7 L628.6 322.4 L630.6 323.1 L632.6 323.8 L634.6 324.5 L636.6 325.2 L638.6 325.9 L640.6 326.6 L642.6 327.3 L644.6 328.0 L646.6 328.7 L648.6 329.4 L650.6 330.1 L652.6 330.8 L654.6 331.5 L656.6 332.2 L658.6 332.9 L660.6 333.6 L662.6 334.3 L664.6 335.0 L666.6 335.7 L668.6 336.4 L670.6 337.1 L672.6 337.8 L674.6 338.5 L676.6 339.3 L678.6 340.0 L680.6 340.7 L682.6 341.4 L684.6 342.1 L686.6 342.8 L688.6 343.6 L690.6 344.3 L692.6 345.0 L694.6 345.8 L696.6 346.5 L698.6 347.2 L700.6 347.9 L702.6 348.7 L704.6 349.4 L706.6 350.2 L708.6 350.9 L710.6 351.6 L712.6 352.4 L714.6 353.1 L716.6 353.9 L718.6 354.6 L720.6 355.4 L722.6 356.2 L724.6 356.9 L726.6 357.7 L728.6 358.4 L730.6 359.2 L732.6 360.0 L734.6 360.7 L736.6 361.5 L738.6 362.3 L740.6 363.1 L742.6 363.8 L744.6 364.6 L746.6 365.4 L748.6 366.2 L750.6 367.0 L752.6 367.8 L754.6 368.6 L756.6 369.3 L758.6 370.1 L760.6 370.9 L762.6 371.7 L764.6 372.5 L766.6 373.3 L768.6 374.1 L770.6 375.0 L772.6 375.8 L774.6 376.6 L776.6 377.4 L778.6 378.2 L780.6 379.0 L782.6 379.8 L784.6 380.7 L786.6 381.5 L788.6 382.3 L790.6 383.1 L792.6 384.0 L794.6 384.8 L796.6 385.6 L798.6 386.4 L800.6 387.3 L802.6 388.1 L804.6 388.9 L806.6 389.8" stroke="#191970" stroke-width="2.4" stroke-dasharray="25.3 7.8 4.7 7.9" stroke-dashoffset="29.00"/>
</g>
<rect x="124.75" y="62.25" width="834.25" height="552.65" fill="none" stroke="#000" stroke-width="2"/>
<g transform="translate(124.75,642.80) scale(0.953,1)"><text font-size="21.8" text-anchor="middle" xml:space="preserve">-60</text></g>
<g transform="translate(229.03,642.80) scale(0.953,1)"><text font-size="21.8" text-anchor="middle" xml:space="preserve">-50</text></g>
<g transform="translate(333.31,642.80) scale(0.953,1)"><text font-size="21.8" text-anchor="middle" xml:space="preserve">-40</text></g>
<g transform="translate(437.59,642.80) scale(0.953,1)"><text font-size="21.8" text-anchor="middle" xml:space="preserve">-30</text></g>
<g transform="translate(541.88,642.80) scale(0.953,1)"><text font-size="21.8" text-anchor="middle" xml:space="preserve">-20</text></g>
<g transform="translate(646.16,642.80) scale(0.953,1)"><text font-size="21.8" text-anchor="middle" xml:space="preserve">-10</text></g>
<g transform="translate(753.44,642.80) scale(0.953,1)"><text font-size="21.8" text-anchor="middle" xml:space="preserve">0</text></g>
<g transform="translate(857.72,642.80) scale(0.953,1)"><text font-size="21.8" text-anchor="middle" xml:space="preserve">10</text></g>
<g transform="translate(962.00,642.80) scale(0.953,1)"><text font-size="21.8" text-anchor="middle" xml:space="preserve">20</text></g>
<g transform="translate(112.00,622.50) scale(0.953,1)"><text font-size="21.8" text-anchor="end" xml:space="preserve">-50</text></g>
<g transform="translate(112.00,572.26) scale(0.953,1)"><text font-size="21.8" text-anchor="end" xml:space="preserve">-40</text></g>
<g transform="translate(112.00,522.02) scale(0.953,1)"><text font-size="21.8" text-anchor="end" xml:space="preserve">-30</text></g>
<g transform="translate(112.00,471.78) scale(0.953,1)"><text font-size="21.8" text-anchor="end" xml:space="preserve">-20</text></g>
<g transform="translate(112.00,421.54) scale(0.953,1)"><text font-size="21.8" text-anchor="end" xml:space="preserve">-10</text></g>
<g transform="translate(112.00,371.30) scale(0.953,1)"><text font-size="21.8" text-anchor="end" xml:space="preserve">0</text></g>
<g transform="translate(112.00,321.05) scale(0.953,1)"><text font-size="21.8" text-anchor="end" xml:space="preserve">10</text></g>
<g transform="translate(112.00,270.81) scale(0.953,1)"><text font-size="21.8" text-anchor="end" xml:space="preserve">20</text></g>
<g transform="translate(112.00,220.57) scale(0.953,1)"><text font-size="21.8" text-anchor="end" xml:space="preserve">30</text></g>
<g transform="translate(112.00,170.33) scale(0.953,1)"><text font-size="21.8" text-anchor="end" xml:space="preserve">40</text></g>
<g transform="translate(112.00,120.09) scale(0.953,1)"><text font-size="21.8" text-anchor="end" xml:space="preserve">50</text></g>
<g transform="translate(112.00,69.85) scale(0.953,1)"><text font-size="21.8" text-anchor="end" xml:space="preserve">60</text></g>
<g transform="translate(542.00,38.20) scale(0.953,1)"><text font-size="21.8" text-anchor="middle" xml:space="preserve">RPQM</text></g>
<g transform="translate(957.00,87.50) scale(0.953,1)"><text font-size="21.8" text-anchor="end" xml:space="preserve">m<tspan font-size="19" dy="6.4" font-family="Liberation Serif" font-weight="normal">σ</tspan><tspan dy="-6.4">=400 MeV</tspan></text></g>
<g transform="translate(466.00,671.00) scale(0.953,1)"><text font-size="21.8" text-anchor="start" xml:space="preserve">(<tspan font-family="Liberation Serif" font-weight="normal" font-size="23">μ–μ</tspan><tspan font-size="17.4" dy="6.4">CEP</tspan><tspan dy="-6.4" dx="0.8">)</tspan><tspan dx="12.3">(MeV)</tspan></text></g>
<g transform="translate(60.00,413.40) rotate(-90) scale(0.953,1)"><text font-size="21.8" text-anchor="start" xml:space="preserve">(T-T<tspan font-size="17.4" dy="6.4">CEP</tspan><tspan dy="-6.4" dx="1">)</tspan><tspan dx="13.6">(MeV)</tspan></text></g>
<g transform="translate(322.80,377.00) scale(0.953,1)"><text font-size="21.8" text-anchor="end" xml:space="preserve">PolyLog-glue;Rq=2</text></g>
<g transform="translate(322.80,408.10) scale(0.953,1)"><text font-size="21.8" text-anchor="end" xml:space="preserve">Rq=3</text></g>
<g transform="translate(322.80,439.20) scale(0.953,1)"><text font-size="21.8" text-anchor="end" xml:space="preserve">Rq=5</text></g>
<g transform="translate(322.80,470.30) scale(0.953,1)"><text font-size="21.8" text-anchor="end" xml:space="preserve">TCP</text></g>
<g transform="translate(322.80,501.40) scale(0.953,1)"><text font-size="21.8" text-anchor="end" xml:space="preserve">Log;Rq=2</text></g>
<g transform="translate(322.80,532.50) scale(0.953,1)"><text font-size="21.8" text-anchor="end" xml:space="preserve">Rq=3</text></g>
<g transform="translate(322.80,563.60) scale(0.953,1)"><text font-size="21.8" text-anchor="end" xml:space="preserve">Rq=5</text></g>
<g transform="translate(322.80,594.70) scale(0.953,1)"><text font-size="21.8" text-anchor="end" xml:space="preserve">CEP</text></g>
<path d="M335 369.40 H394" stroke="#00c000" stroke-width="3"/>
<path d="M335 400.50 H394" stroke="#f5be0e" stroke-width="3"/>
<path d="M335 431.60 H394" stroke="#00ffff" stroke-width="3"/>
<rect x="358" y="456.10" width="13.2" height="13.2" fill="#0080ff"/>
<path d="M335 493.80 H394" stroke="#ff1493" stroke-width="3.2" stroke-dasharray="33.6 10.7 5.8 10.7"/>
<path d="M335 524.90 H394" stroke="#9400d3" stroke-width="2.4" stroke-dasharray="25.3 7.8 4.7 7.9"/>
<path d="M335 556.00 H394" stroke="#191970" stroke-width="2.4" stroke-dasharray="25.3 7.8 4.7 7.9"/>
<circle cx="364.6" cy="587.30" r="8.6" fill="#9400d3"/>
<rect x="158.2" y="188" width="13.2" height="13.2" fill="#0080ff"/>
<circle cx="750.44" cy="363.70" r="8.6" fill="#9400d3"/>
</svg>
</body></html>
